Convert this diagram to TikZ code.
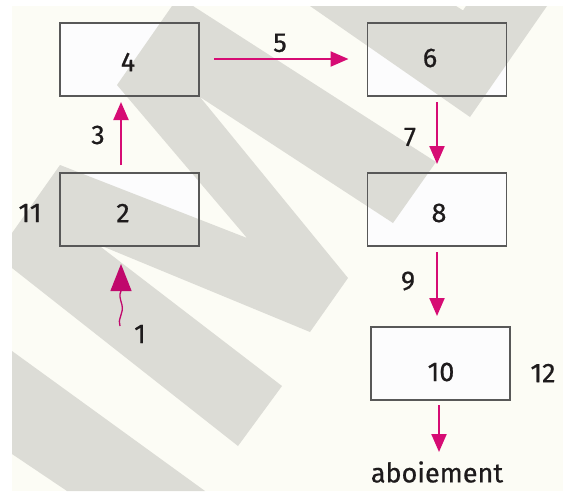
\documentclass[tikz,border=0pt]{standalone}
\usepackage{fontspec}
\setmainfont{Fira Sans}
\newfontfamily\lblfont{Fira Sans}[FakeBold=0.6]
\usetikzlibrary{arrows.meta}
\definecolor{bgc}{RGB}{252,252,245}
\definecolor{wm}{RGB}{220,220,214}
\definecolor{boxfill}{RGB}{252,252,253}
\definecolor{boxline}{RGB}{88,88,88}
\definecolor{arr}{RGB}{214,12,116}
\definecolor{arrdark}{RGB}{192,8,108}
\definecolor{txt}{RGB}{30,27,28}
\begin{document}
\begin{tikzpicture}[x=1pt,y=-1pt,
  boxbg/.style={fill=boxfill,minimum width=139pt,minimum height=73pt,inner sep=0pt,outer sep=0pt},
  boxborder/.style={draw=boxline,line width=1.5pt},
  lbl/.style={text=txt,font=\lblfont\fontsize{27}{31}\selectfont,inner sep=0pt},
  flow/.style={draw=arr,line width=2.2pt,-{Triangle[length=18pt,width=15pt]}}
]
\useasboundingbox (0,0) rectangle (563,491);
\fill[white] (0,0) rectangle (563,491);
\fill[bgc] (12,6) rectangle (563,491);
% box backgrounds
\node[boxbg] (b4) at (129.5,59.5) {};
\node[boxbg] (b6) at (437,59.5) {};
\node[boxbg] (b2) at (129.5,209.5) {};
\node[boxbg] (b8) at (437,209.5) {};
\node[boxbg] (b10) at (440.5,363.5) {};
% watermark
\fill[wm] (117,85) -- (172,6) -- (193,6) -- (436,162) -- (393,223) -- (200,97)
  -- (348,278) -- (310,332) -- (97,244) -- (282,386) -- (238,446) -- (12,268)
  -- (12,233) -- (60,165) -- (247,238) -- cycle;
\fill[wm] (310,6) -- (456,6) -- (463,10.4) -- (466,6) -- (547,6) -- (470,117) -- cycle;
\fill[wm] (12,351) -- (205,491) -- (67,491) -- (12,454) -- cycle;
% box borders
\foreach \b in {b4,b6,b2,b8,b10}
  \draw[boxborder] (\b.south west) rectangle (\b.north east);
% box texts
\node[lbl] (t4) at (128,62) {4};
\node[lbl] (t6) at (430,58) {6};
\node[lbl] (t2) at (123,213) {2};
\node[lbl] (t8) at (439,213) {8};
\node[lbl] (t10) at (441,372) {10};
% outside labels
\node[lbl] (l5) at (280,43) {5};
\node[lbl] (l3) at (98,135) {3};
\node[lbl] (l7) at (410,137) {7};
\node[lbl] (l9) at (408,281) {9};
\node[lbl] (l11) at (30,213) {11};
\node[lbl] (l12) at (543,373) {12};
\node[lbl] (l1) at (140,334) {1};
\node[lbl] (ab) at (437,472) {aboiement};
% arrows
\draw[flow] ([xshift=-8.5pt,yshift=8pt]b2.north) -- ([xshift=-8.5pt,yshift=-6pt]b4.south);
\draw[flow] ([xshift=15pt,yshift=0.5pt]b4.east) -- ([xshift=-19pt,yshift=0.5pt]b6.west);
\draw[flow] ([yshift=-6pt]b6.south) -- ([yshift=9pt]b8.north);
\draw[flow] ([yshift=-6pt]b8.south) -- ([xshift=-3.5pt,yshift=11pt]b10.north);
\coordinate (abtop) at (439,452);
\draw[flow] ([xshift=-1.5pt,yshift=-5pt]b10.south) -- (abtop);
\coordinate (w0) at (120,326);
\coordinate (w1) at (121,264);
\draw[arrdark,line width=1.3pt,-{Triangle[length=27pt,width=21pt]}]
  (w0) .. controls (117,320) and (124,313) .. (122,305)
  .. controls (120,298) and (119,295) .. (121,291) -- (w1);
\end{tikzpicture}
\end{document}
